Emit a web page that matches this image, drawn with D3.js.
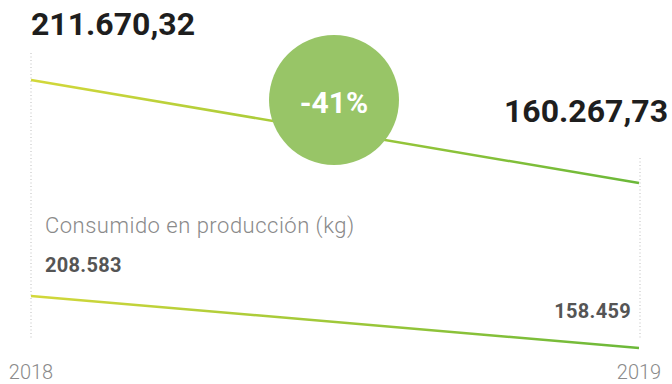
<!DOCTYPE html>
<html>
<head>
<meta charset="utf-8">
<script src="https://cdn.jsdelivr.net/npm/d3@7"></script>
<style>
  body { margin:0; background:#fff; font-family: Roboto, "Noto Sans", sans-serif; }
</style>
</head>
<body>
<div class="svgWrap"></div>
<script>
var years = ["2018", "2019"];
var totalValues = [211670.32, 160267.73];
var totalLabels = ["211.670,32", "160.267,73"];
var prodValues = [208583, 158459];
var prodLabels = ["208.583", "158.459"];
var prodTitle = "Consumido en producción (kg)";
var changeLabel = "-41%";

var width = 672, height = 384;

var svg = d3.select(".svgWrap")
  .append("svg")
  .attr("width", width)
  .attr("height", height);

var defs = svg.append("defs");
var grad = defs.append("linearGradient")
  .attr("id", "lineGrad")
  .attr("x1", "0%").attr("x2", "100%")
  .attr("y1", "0%").attr("y2", "0%");
grad.append("stop").attr("offset", "0%").attr("stop-color", "#d3d83a");
grad.append("stop").attr("offset", "100%").attr("stop-color", "#6bb839");

var x = d3.scalePoint()
  .domain(years)
  .range([31, 639]);

// two panels, each with own y scale
var yTop = d3.scaleLinear()
  .domain([160267.73, 211670.32])
  .range([183, 80]);

var yBot = d3.scaleLinear()
  .domain([158459, 208583])
  .range([348, 296]);

// dotted guides
svg.append("line")
  .attr("x1", x("2018")).attr("x2", x("2018"))
  .attr("y1", 53).attr("y2", 339)
  .attr("stroke", "#bdbdbd").attr("stroke-width", 1)
  .attr("stroke-dasharray", "1,2.5");
svg.append("line")
  .attr("x1", x("2019") + 1).attr("x2", x("2019") + 1)
  .attr("y1", 158).attr("y2", 340)
  .attr("stroke", "#bdbdbd").attr("stroke-width", 1)
  .attr("stroke-dasharray", "1,2.5");

var line = function(yScale){
  return d3.line()
    .x(function(d, i){ return x(years[i]); })
    .y(function(d){ return yScale(d); });
};

// top line
svg.append("path")
  .datum(totalValues)
  .attr("d", line(yTop))
  .attr("fill", "none")
  .attr("stroke", "url(#lineGrad)")
  .attr("stroke-width", 2.5);

// bottom line
svg.append("path")
  .datum(prodValues)
  .attr("d", line(yBot))
  .attr("fill", "none")
  .attr("stroke", "url(#lineGrad)")
  .attr("stroke-width", 2.5);

// big numbers
svg.append("text")
  .attr("x", 31)
  .attr("y", 35)
  .style("font-size", "32px")
  .style("font-weight", "700")
  .style("fill", "#1e1e1e")
  .text(totalLabels[0]);

svg.append("text")
  .attr("x", 668)
  .attr("y", 122)
  .attr("text-anchor", "end")
  .style("font-size", "32px")
  .style("font-weight", "700")
  .style("fill", "#1e1e1e")
  .text(totalLabels[1]);

// change bubble
svg.append("circle")
  .attr("cx", 334)
  .attr("cy", 100)
  .attr("r", 65)
  .attr("fill", "#98c567");

svg.append("text")
  .attr("x", 334)
  .attr("y", 113)
  .attr("text-anchor", "middle")
  .style("font-size", "30px")
  .style("font-weight", "700")
  .style("fill", "#fff")
  .text(changeLabel);

// bottom panel title
svg.append("text")
  .attr("x", 45)
  .attr("y", 233)
  .style("font-size", "22px")
  .style("font-weight", "300")
  .style("letter-spacing", "0.5px")
  .style("fill", "#8a8a8a")
  .text(prodTitle);

svg.append("text")
  .attr("x", 45)
  .attr("y", 272)
  .style("font-size", "20px")
  .style("font-weight", "700")
  .style("letter-spacing", "0.3px")
  .style("fill", "#555")
  .text(prodLabels[0]);

svg.append("text")
  .attr("x", 631)
  .attr("y", 318)
  .attr("text-anchor", "end")
  .style("font-size", "20px")
  .style("font-weight", "700")
  .style("letter-spacing", "0.3px")
  .style("fill", "#555")
  .text(prodLabels[1]);

// year axis
var xAxis = svg.append("g")
  .attr("transform", "translate(0,379)");
xAxis.selectAll("text")
  .data(years)
  .enter()
  .append("text")
  .attr("x", function(d){ return x(d); })
  .attr("text-anchor", "middle")
  .style("font-size", "20px")
  .style("font-weight", "300")
  .style("fill", "#8a8a8a")
  .text(function(d){ return d; });
</script>
</body>
</html>
